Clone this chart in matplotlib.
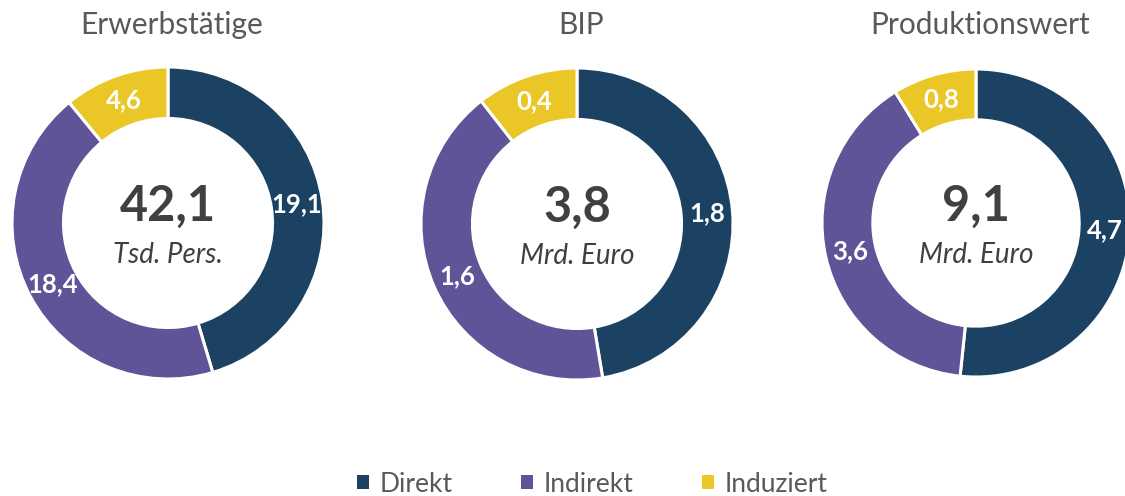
import numpy as np
import matplotlib
matplotlib.use("Agg")
import matplotlib.pyplot as plt
from matplotlib.patches import Patch

# data
categories = ["Direkt", "Indirekt", "Induziert"]
titles = ["Erwerbstätige", "BIP", "Produktionswert"]
units = ["Tsd. Pers.", "Mrd. Euro", "Mrd. Euro"]
erwerbstaetige = [19.1, 18.4, 4.6]
bip = [1.8, 1.6, 0.4]
produktionswert = [4.7, 3.6, 0.8]
series = [erwerbstaetige, bip, produktionswert]

colors = ["#1C4263", "#5E5497", "#EAC627"]

plt.rcParams["font.family"] = ["Lato", "DejaVu Sans"]

W, H = 1125, 496
fig = plt.figure(figsize=(W / 100, H / 100), dpi=100)
ax = fig.add_axes([0, 0, 1, 1])
ax.set_xlim(0, W)
ax.set_ylim(0, H)
ax.set_aspect("equal")
ax.axis("off")

# donut layout in pixel units (y measured from top)
centers = [(168, 223), (577, 224), (976, 223)]
radii = [156, 156, 154]
ring = 0.33


def fmt(v):
    return f"{v:.1f}".replace(".", ",")


for vals, title, unit, (cx, cy), r in zip(series, titles, units, centers, radii):
    cy = H - cy
    wedges, _ = ax.pie(vals, colors=colors, startangle=90, counterclock=False,
                       center=(cx, cy), radius=r, frame=True,
                       wedgeprops=dict(width=r * ring, edgecolor="white", linewidth=2.2))
    # value labels in the middle of each ring segment
    rl = r * (1 - ring / 2)
    for w, v in zip(wedges, vals):
        ang = np.deg2rad((w.theta1 + w.theta2) / 2)
        ax.text(cx + rl * np.cos(ang), cy + rl * np.sin(ang), fmt(v),
                ha="center", va="center", color="white", fontsize=18.5, fontweight="bold")
    ax.text(cx, cy + 17, fmt(sum(vals)), ha="center", va="center",
            fontsize=35, fontweight="bold", color="#404040")
    ax.text(cx, cy - 32, unit, ha="center", va="center",
            fontsize=20, style="italic", color="#404040")
    ax.text(cx + 4, H - 25, title, ha="center", va="center",
            fontsize=21.5, color="#595959")

ax.set_xlim(0, W)
ax.set_ylim(0, H)

handles = [Patch(facecolor=c, edgecolor="none", label=l) for c, l in zip(colors, categories)]
leg = ax.legend(handles=handles, loc="center", bbox_to_anchor=(592 / W, 12 / H),
                ncol=3, frameon=False, fontsize=19, handlelength=0.45, handleheight=0.45,
                handletextpad=0.4, columnspacing=2.6)
for t in leg.get_texts():
    t.set_color("#595959")

fig.savefig("out.png", dpi=100)
